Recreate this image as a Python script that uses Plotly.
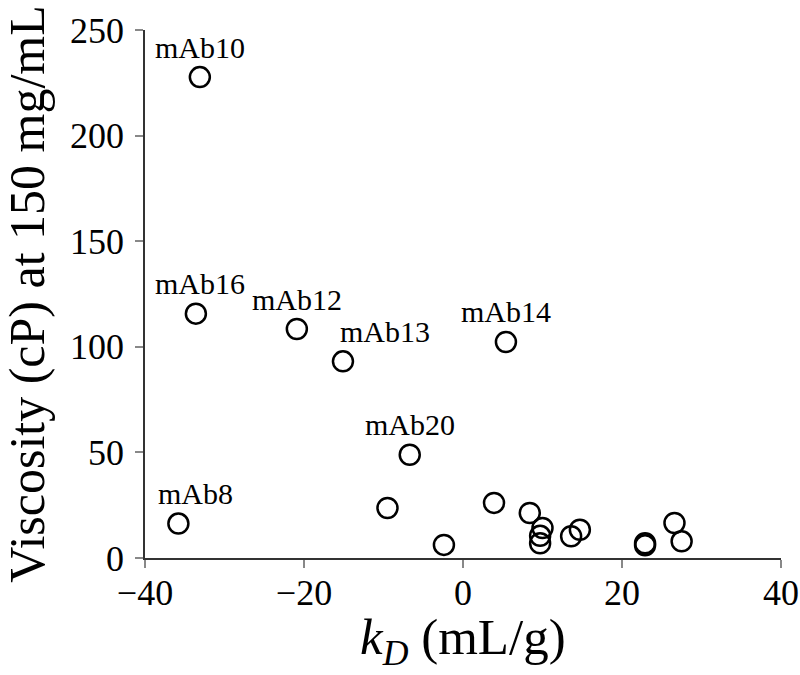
import plotly.graph_objects as go

# labelled antibodies
label_names = ["mAb10", "mAb16", "mAb12", "mAb13", "mAb14", "mAb20", "mAb8"]
label_kd = [-33.1, -33.6, -20.9, -15.1, 5.4, -6.7, -35.8]
label_visc = [227.7, 115.7, 108.4, 93.1, 102.3, 48.9, 16.3]
label_dx = [0, 4, 0, 42, 0, 0, 17]

# unlabelled antibodies
other_kd = [-9.5, -2.4, 3.9, 8.4, 10.0, 9.7, 9.7, 13.6, 14.7, 22.9, 22.9, 26.6, 27.5]
other_visc = [23.7, 6.2, 26.1, 21.3, 14.2, 10.5, 7.0, 10.3, 13.4, 7.0, 6.0, 16.6, 7.9]

x_ticks = [-40, -20, 0, 20, 40]
x_tick_text = ["\u221240", "\u221220", "0", "20", "40"]
y_ticks = [0, 50, 100, 150, 200, 250]

FONT = "Liberation Serif"

fig = go.Figure()
fig.add_trace(go.Scatter(
    x=label_kd + other_kd,
    y=label_visc + other_visc,
    mode="markers",
    marker=dict(symbol="circle-open", size=20, color="black", line=dict(width=2.5)),
    cliponaxis=False,
    showlegend=False,
))

for name, x, y, dx in zip(label_names, label_kd, label_visc, label_dx):
    fig.add_annotation(x=x, y=y, text=name, showarrow=False,
                       xshift=dx, yshift=30,
                       font=dict(family=FONT, size=30, color="black"))

# axis titles as annotations so they sit where the reference has them
fig.add_annotation(xref="paper", yref="paper", x=0.5, y=-0.158,
                   xanchor="center", yanchor="middle", showarrow=False,
                   text="<i>k</i><sub><i>D</i></sub> (mL/g)",
                   font=dict(family=FONT, size=51, color="black"))
fig.add_annotation(xref="paper", yref="paper", x=-0.186, y=0.5,
                   xanchor="center", yanchor="middle", showarrow=False,
                   textangle=-90, text="Viscosity (cP) at 150 mg/mL",
                   font=dict(family=FONT, size=50, color="black"))

fig.update_layout(
    width=800, height=675,
    margin=dict(l=145, r=19, t=30, b=117),
    plot_bgcolor="white", paper_bgcolor="white",
    font=dict(family=FONT, color="black"),
)
fig.update_xaxes(
    range=[-40, 40], tickvals=x_ticks, ticktext=x_tick_text,
    showgrid=False, zeroline=False, automargin=False,
    showline=True, linecolor="#333", linewidth=1.5,
    ticks="outside", ticklen=8, tickcolor="#888", tickwidth=2,
    tickfont=dict(family=FONT, size=36), ticklabelstandoff=-6,
)
fig.update_yaxes(
    range=[0, 250], tickvals=y_ticks,
    showgrid=False, zeroline=False, automargin=False,
    showline=True, linecolor="#333", linewidth=1.5,
    ticks="outside", ticklen=8, tickcolor="#888", tickwidth=2,
    tickfont=dict(family=FONT, size=36), ticklabelstandoff=4,
)

# drop the default body margin so the 800x675 figure fills the window exactly
fig.write_html("out.html", config={"displayModeBar": False},
               post_script="document.body.style.margin='0';document.body.style.overflow='hidden';")
